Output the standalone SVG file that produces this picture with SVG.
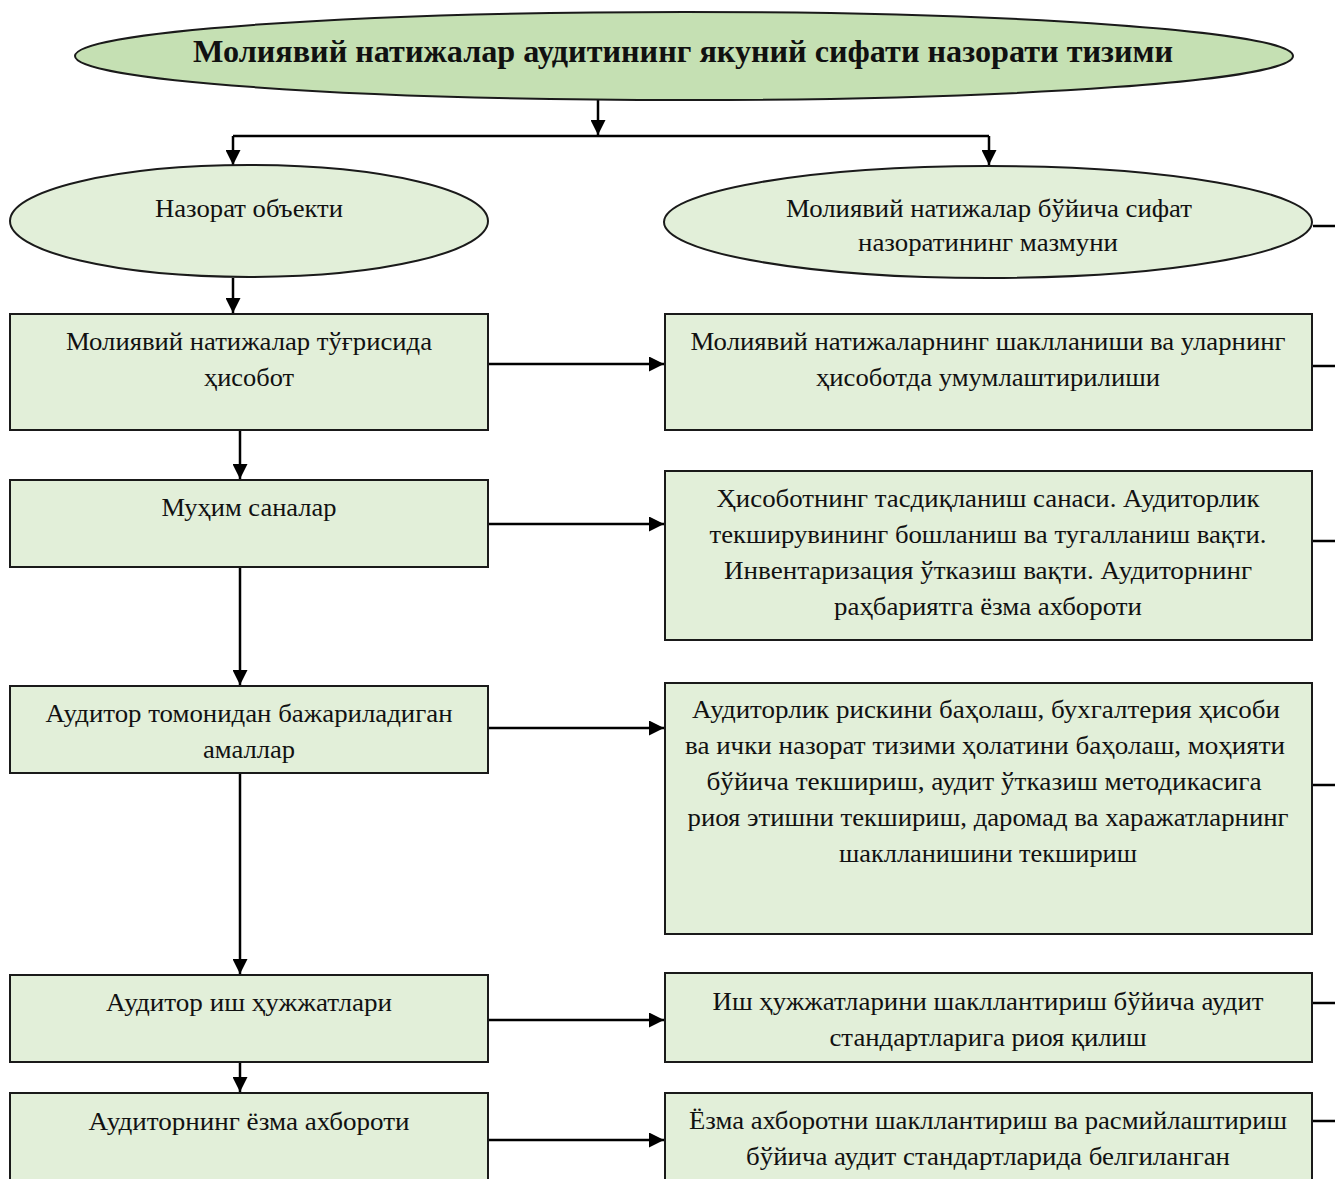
<svg xmlns="http://www.w3.org/2000/svg" width="1335" height="1179" viewBox="0 0 1335 1179">
<style>
.n{fill:#e2efd9;stroke:#1a1a1a;stroke-width:2}
.t{fill:#c5e0b3;stroke:#1a1a1a;stroke-width:2}
text{font-family:"Liberation Serif","Times New Roman",serif;font-size:26px;fill:#111;text-anchor:middle}
.b{font-weight:bold;font-size:31px}
.c{stroke:#000;stroke-width:2.5;fill:none}
</style>
<defs>
<marker id="a" viewBox="0 0 10 10" refX="10" refY="5" markerWidth="6" markerHeight="6" orient="auto" markerUnits="strokeWidth">
<path d="M0,0L10,5L0,10z" fill="#000"/>
</marker>
</defs>
<rect width="1335" height="1179" fill="#fff"/>
<g id="connectors">
<path class="c" d="M598,100V135" marker-end="url(#a)"/>
<path class="c" d="M233,136H989"/>
<path class="c" d="M233,136V165" marker-end="url(#a)"/>
<path class="c" d="M989,136V165" marker-end="url(#a)"/>
<path class="c" d="M233,278V313" marker-end="url(#a)"/>
<path class="c" d="M240,430V479" marker-end="url(#a)"/>
<path class="c" d="M240,567V685" marker-end="url(#a)"/>
<path class="c" d="M240,773V974" marker-end="url(#a)"/>
<path class="c" d="M240,1062V1092" marker-end="url(#a)"/>
<path class="c" d="M488,364H664" marker-end="url(#a)"/>
<path class="c" d="M488,524H664" marker-end="url(#a)"/>
<path class="c" d="M488,728H664" marker-end="url(#a)"/>
<path class="c" d="M488,1020H664" marker-end="url(#a)"/>
<path class="c" d="M488,1140H664" marker-end="url(#a)"/>
<path class="c" d="M1313,226H1335M1313,366H1335M1313,541H1335M1313,785H1335M1313,1003H1335M1313,1121H1335" stroke-width="1.5"/>
</g>
<g id="title">
<ellipse class="t" cx="684" cy="56" rx="609" ry="44"/>
<text class="b" x="683" y="62" textLength="980" lengthAdjust="spacingAndGlyphs">Молиявий натижалар аудитининг якуний сифати назорати тизими</text>
</g>
<g id="obj">
<ellipse class="n" cx="249" cy="221" rx="239" ry="56"/>
<text x="249" y="217" textLength="188" lengthAdjust="spacingAndGlyphs">Назорат объекти</text>
</g>
<g id="content">
<ellipse class="n" cx="988" cy="222" rx="324" ry="56"/>
<text x="989" y="217" textLength="406" lengthAdjust="spacingAndGlyphs">Молиявий натижалар бўйича сифат</text>
<text x="988" y="251" textLength="260" lengthAdjust="spacingAndGlyphs">назоратининг мазмуни</text>
</g>
<g id="l1">
<rect class="n" x="10" y="314" width="478" height="116"/>
<text x="249" y="350" textLength="366" lengthAdjust="spacingAndGlyphs">Молиявий натижалар тўғрисида</text>
<text x="249" y="386" textLength="90" lengthAdjust="spacingAndGlyphs">ҳисобот</text>
</g>
<g id="r1">
<rect class="n" x="665" y="314" width="647" height="116"/>
<text x="988" y="350" textLength="595" lengthAdjust="spacingAndGlyphs">Молиявий натижаларнинг шаклланиши ва уларнинг</text>
<text x="988" y="386" textLength="344" lengthAdjust="spacingAndGlyphs">ҳисоботда умумлаштирилиши</text>
</g>
<g id="l2">
<rect class="n" x="10" y="480" width="478" height="87"/>
<text x="249" y="516" textLength="175" lengthAdjust="spacingAndGlyphs">Муҳим саналар</text>
</g>
<g id="r2">
<rect class="n" x="665" y="471" width="647" height="169"/>
<text x="988" y="507" textLength="543" lengthAdjust="spacingAndGlyphs">Ҳисоботнинг тасдиқланиш санаси. Аудиторлик</text>
<text x="988" y="543" textLength="557" lengthAdjust="spacingAndGlyphs">текширувининг бошланиш ва тугалланиш вақти.</text>
<text x="988" y="579" textLength="528" lengthAdjust="spacingAndGlyphs">Инвентаризация ўтказиш вақти. Аудиторнинг</text>
<text x="988" y="615" textLength="308" lengthAdjust="spacingAndGlyphs">раҳбариятга ёзма ахбороти</text>
</g>
<g id="l3">
<rect class="n" x="10" y="686" width="478" height="87"/>
<text x="249" y="722" textLength="407" lengthAdjust="spacingAndGlyphs">Аудитор томонидан бажариладиган</text>
<text x="249" y="758" textLength="92" lengthAdjust="spacingAndGlyphs">амаллар</text>
</g>
<g id="r3">
<rect class="n" x="665" y="683" width="647" height="251"/>
<text x="986" y="718" textLength="588" lengthAdjust="spacingAndGlyphs">Аудиторлик рискини баҳолаш, бухгалтерия ҳисоби</text>
<text x="985" y="754" textLength="600" lengthAdjust="spacingAndGlyphs">ва ички назорат тизими ҳолатини баҳолаш, моҳияти</text>
<text x="984" y="790" textLength="555" lengthAdjust="spacingAndGlyphs">бўйича текшириш, аудит ўтказиш методикасига</text>
<text x="988" y="826" textLength="601" lengthAdjust="spacingAndGlyphs">риоя этишни текшириш, даромад ва харажатларнинг</text>
<text x="988" y="862" textLength="298" lengthAdjust="spacingAndGlyphs">шаклланишини текшириш</text>
</g>
<g id="l4">
<rect class="n" x="10" y="975" width="478" height="87"/>
<text x="249" y="1011" textLength="286" lengthAdjust="spacingAndGlyphs">Аудитор иш ҳужжатлари</text>
</g>
<g id="r4">
<rect class="n" x="665" y="973" width="647" height="89"/>
<text x="988" y="1010" textLength="551" lengthAdjust="spacingAndGlyphs">Иш ҳужжатларини шакллантириш бўйича аудит</text>
<text x="988" y="1046" textLength="317" lengthAdjust="spacingAndGlyphs">стандартларига риоя қилиш</text>
</g>
<g id="l5">
<rect class="n" x="10" y="1093" width="478" height="100"/>
<text x="249" y="1130" textLength="321" lengthAdjust="spacingAndGlyphs">Аудиторнинг ёзма ахбороти</text>
</g>
<g id="r5">
<rect class="n" x="665" y="1093" width="647" height="100"/>
<text x="988" y="1129" textLength="598" lengthAdjust="spacingAndGlyphs">Ёзма ахборотни шакллантириш ва расмийлаштириш</text>
<text x="988" y="1165" textLength="484" lengthAdjust="spacingAndGlyphs">бўйича аудит стандартларида белгиланган</text>
</g>
</svg>
